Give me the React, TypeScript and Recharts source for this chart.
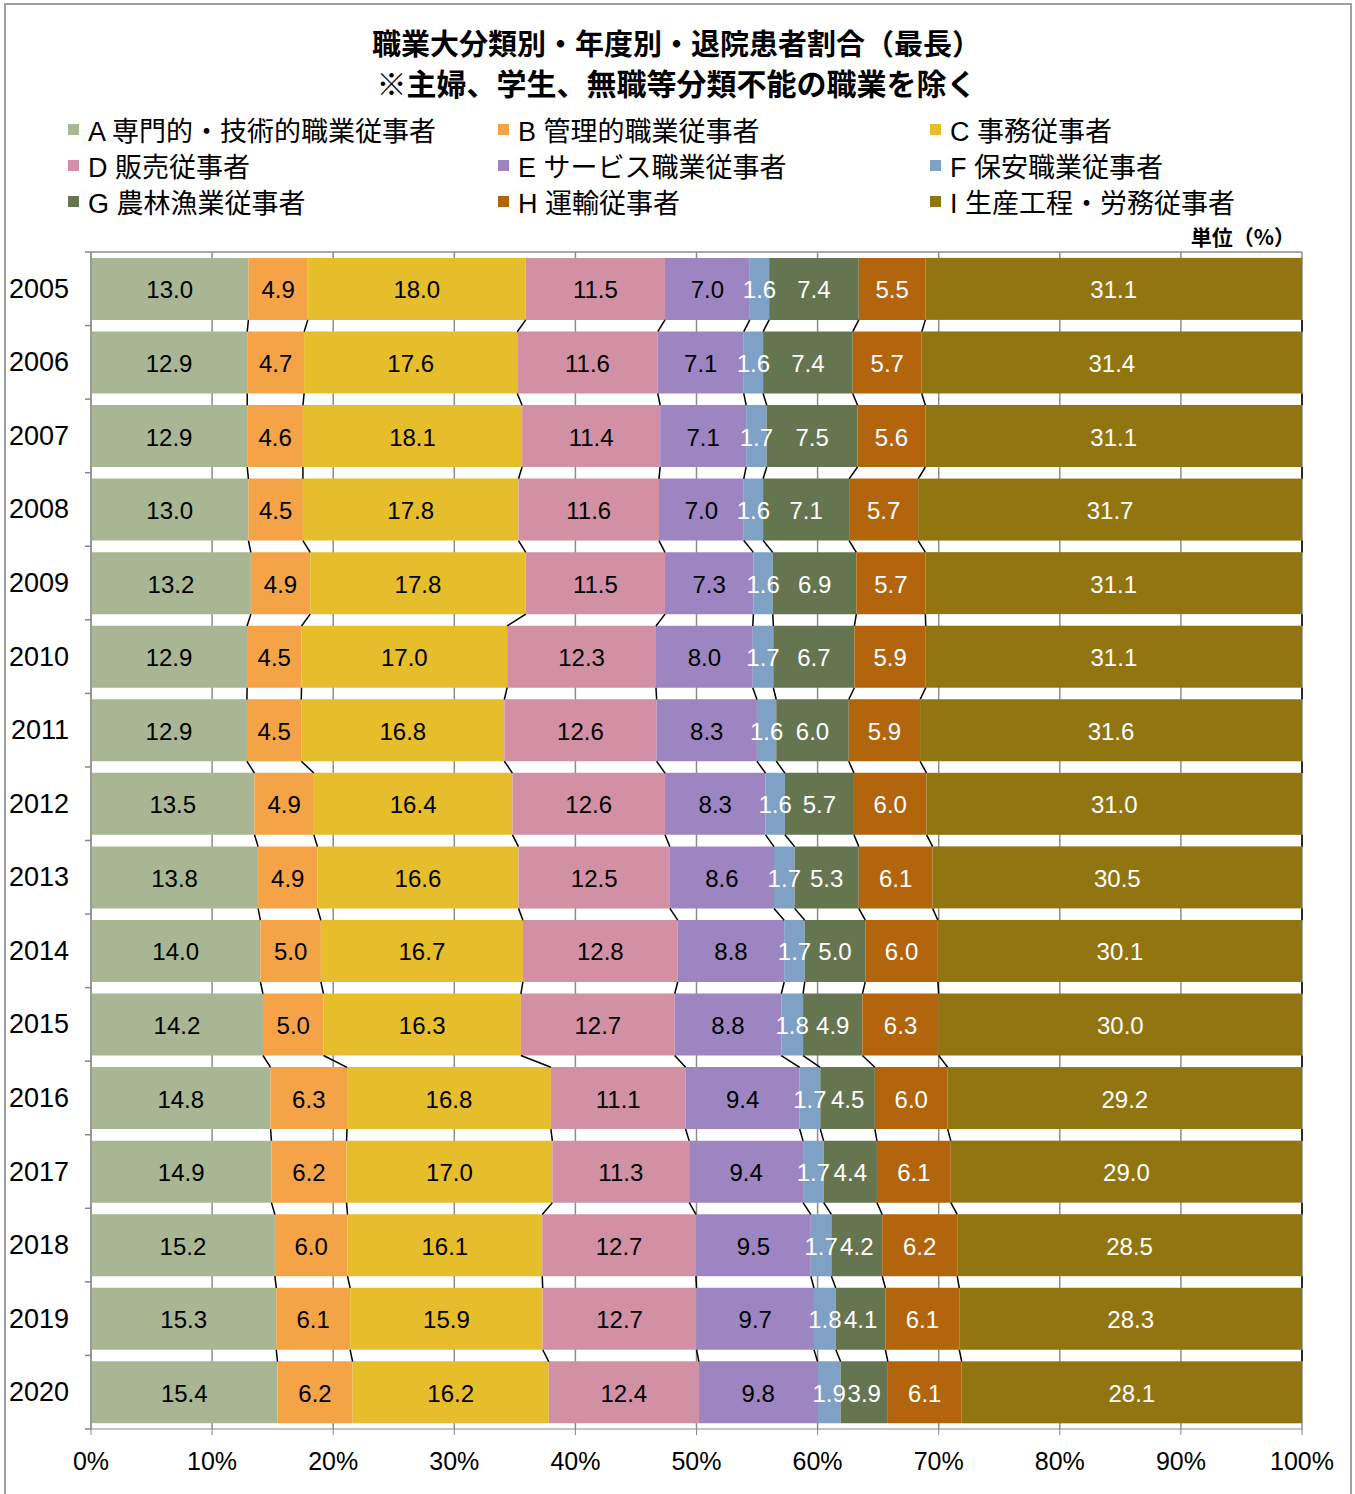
import { BarChart, Bar, XAxis, YAxis, CartesianGrid, Rectangle } from 'recharts';

const YEARS = ['2005', '2006', '2007', '2008', '2009', '2010', '2011', '2012', '2013', '2014', '2015', '2016', '2017', '2018', '2019', '2020'];

const A = [13.0, 12.9, 12.9, 13.0, 13.2, 12.9, 12.9, 13.5, 13.8, 14.0, 14.2, 14.8, 14.9, 15.2, 15.3, 15.4];
const B = [4.9, 4.7, 4.6, 4.5, 4.9, 4.5, 4.5, 4.9, 4.9, 5.0, 5.0, 6.3, 6.2, 6.0, 6.1, 6.2];
const C = [18.0, 17.6, 18.1, 17.8, 17.8, 17.0, 16.8, 16.4, 16.6, 16.7, 16.3, 16.8, 17.0, 16.1, 15.9, 16.2];
const D = [11.5, 11.6, 11.4, 11.6, 11.5, 12.3, 12.6, 12.6, 12.5, 12.8, 12.7, 11.1, 11.3, 12.7, 12.7, 12.4];
const E = [7.0, 7.1, 7.1, 7.0, 7.3, 8.0, 8.3, 8.3, 8.6, 8.8, 8.8, 9.4, 9.4, 9.5, 9.7, 9.8];
const F = [1.6, 1.6, 1.7, 1.6, 1.6, 1.7, 1.6, 1.6, 1.7, 1.7, 1.8, 1.7, 1.7, 1.7, 1.8, 1.9];
const G = [7.4, 7.4, 7.5, 7.1, 6.9, 6.7, 6.0, 5.7, 5.3, 5.0, 4.9, 4.5, 4.4, 4.2, 4.1, 3.9];
const H = [5.5, 5.7, 5.6, 5.7, 5.7, 5.9, 5.9, 6.0, 6.1, 6.0, 6.3, 6.0, 6.1, 6.2, 6.1, 6.1];
const I = [31.1, 31.4, 31.1, 31.7, 31.1, 31.1, 31.6, 31.0, 30.5, 30.1, 30.0, 29.2, 29.0, 28.5, 28.3, 28.1];

const KEYS = ['A', 'B', 'C', 'D', 'E', 'F', 'G', 'H', 'I'];
const VALUES = [A, B, C, D, E, F, G, H, I];
const NAMES = [
  'A 専門的・技術的職業従事者',
  'B 管理的職業従事者',
  'C 事務従事者',
  'D 販売従事者',
  'E サービス職業従事者',
  'F 保安職業従事者',
  'G 農林漁業従事者',
  'H 運輸従事者',
  'I 生産工程・労務従事者',
];
const X_TICKS = [0, 0.1, 0.2, 0.3, 0.4, 0.5, 0.6, 0.7, 0.8, 0.9, 1];

const COLORS = ['#a8b693', '#f4a446', '#e6bd2a', '#d290a4', '#9c85c1', '#7ea1c5', '#65754f', '#b3650e', '#917511'];
const LABEL_COLORS = ['#000', '#000', '#000', '#000', '#000', '#fff', '#fff', '#fff', '#fff'];

const data = YEARS.map((year, i) => {
  const row: any = { year };
  KEYS.forEach((k, s) => (row[k] = VALUES[s][i]));
  return row;
});

const W = 1355;
const H_ = 1494;
const PLOT_LEFT = 91;
const PLOT_TOP = 252;
const PLOT_BOTTOM = 1429;
const BAND = (PLOT_BOTTOM - PLOT_TOP) / YEARS.length;
const GAP = 0.08;
const FONT = "'Liberation Sans', 'Noto Sans CJK JP', sans-serif";

function cumFractions(row: any) {
  const total = KEYS.reduce((acc, k) => acc + row[k], 0);
  let c = 0;
  return KEYS.map((k) => {
    c += row[k];
    return c / total;
  });
}

// last series draws its rect, the series lines to the next year and all labels
function LastShape(props: any) {
  const { x, y, width, height, payload, fill } = props;
  const i = YEARS.indexOf(payload.year);
  const cum = cumFractions(payload);
  const lastFrac = 1 - cum[KEYS.length - 2];
  const px = width / lastFrac;
  const x0 = x + width - px;
  const gapPx = (height / (1 - 2 * GAP)) * 2 * GAP;
  const next = i < YEARS.length - 1 ? cumFractions(data[i + 1]) : null;
  return (
    <g>
      <rect x={x} y={y} width={width} height={height} fill={fill} />
      {next &&
        cum.map((c, s) => (
          <line
            key={'l' + s}
            x1={x0 + px * c}
            y1={y + height}
            x2={x0 + px * next[s]}
            y2={y + height + gapPx}
            stroke="#000"
            strokeWidth={1.5}
          />
        ))}
      {KEYS.map((k, s) => {
        const start = s === 0 ? 0 : cum[s - 1];
        const cx = x0 + px * (start + cum[s]) / 2;
        return (
          <text
            key={'t' + s}
            x={cx}
            y={y + height / 2 + 1}
            textAnchor="middle"
            dominantBaseline="central"
            fontSize={24}
            fontFamily={FONT}
            fill={LABEL_COLORS[s]}
          >
            {payload[k].toFixed(1)}
          </text>
        );
      })}
    </g>
  );
}

function YTick(props: any) {
  const { y, payload } = props;
  const i = YEARS.indexOf(payload.value);
  return (
    <g>
      <line x1={PLOT_LEFT - 6} x2={PLOT_LEFT} y1={y - BAND / 2} y2={y - BAND / 2} stroke="#888" strokeWidth={1.5} />
      {i === YEARS.length - 1 && (
        <line x1={PLOT_LEFT - 6} x2={PLOT_LEFT} y1={y + BAND / 2} y2={y + BAND / 2} stroke="#888" strokeWidth={1.5} />
      )}
      <text x={PLOT_LEFT - 22} y={y} textAnchor="end" dominantBaseline="central" fontSize={27} fontFamily={FONT} fill="#000">
        {payload.value}
      </text>
    </g>
  );
}

const LEGEND_X = [68, 498, 930];
const LEGEND_Y = [129, 165, 201];

export default function App() {
  return (
    <div style={{ position: 'absolute', left: 0, top: 0, width: W, height: H_, overflow: 'hidden', background: '#fff', fontFamily: FONT }}>
      <div style={{ position: 'absolute', left: 4, top: 3, width: 1344, height: 1520, border: '2px solid #a0a0a0' }} />
      <div style={{ position: 'absolute', left: 0, top: 0 }}>
        <BarChart
          width={W}
          height={H_}
          data={data}
          layout="vertical"
          stackOffset="expand"
          barCategoryGap={`${GAP * 100}%`}
          margin={{ top: PLOT_TOP, right: W - 1302, bottom: 25, left: 11 }}
        >
          <CartesianGrid
            stroke="#8c8c8c"
            strokeWidth={1.5}
            horizontalCoordinatesGenerator={() => [PLOT_TOP]}
          />
          <XAxis
            type="number"
            domain={[0, 1]}
            ticks={X_TICKS}
            tickFormatter={(v: number) => `${Math.round(v * 100)}%`}
            height={40}
            tickSize={6}
            tickMargin={17}
            stroke="#888"
            tick={{ fontSize: 25, fill: '#000', fontFamily: FONT }}
          />
          <YAxis type="category" dataKey="year" width={80} tickLine={false} stroke="#888" tick={<YTick />} />
          {KEYS.map((k, s) => (
            <Bar
              key={k}
              dataKey={k}
              name={NAMES[s]}
              stackId="a"
              fill={COLORS[s]}
              isAnimationActive={false}
              shape={s === KEYS.length - 1 ? <LastShape /> : <Rectangle />}
            />
          ))}
        </BarChart>
      </div>
      <div style={{ position: 'absolute', left: 0, width: W - 2, top: 22, textAlign: 'center', fontFamily: "'Noto Sans CJK JP', sans-serif", fontWeight: 700, fontSize: 29, lineHeight: '40px', color: '#000' }}>
        <div>職業大分類別・年度別・退院患者割合（最長）</div>
        <div style={{ fontSize: 30 }}>※主婦、学生、無職等分類不能の職業を除く</div>
      </div>
      {NAMES.map((n, s) => (
        <div
          key={n}
          style={{ position: 'absolute', left: LEGEND_X[s % 3], top: LEGEND_Y[Math.floor(s / 3)] - 16, height: 32, display: 'flex', alignItems: 'center', fontSize: 27, color: '#000', whiteSpace: 'nowrap' }}
        >
          <span style={{ display: 'inline-block', width: 11, height: 11, background: COLORS[s], marginRight: 9 }} />
          <span>{n}</span>
        </div>
      ))}
      <div style={{ position: 'absolute', right: W - 1295, top: 223, fontSize: 21, fontWeight: 700, fontFamily: "'Noto Sans CJK JP', sans-serif", lineHeight: '26px' }}>
        単位（%）
      </div>
    </div>
  );
}
